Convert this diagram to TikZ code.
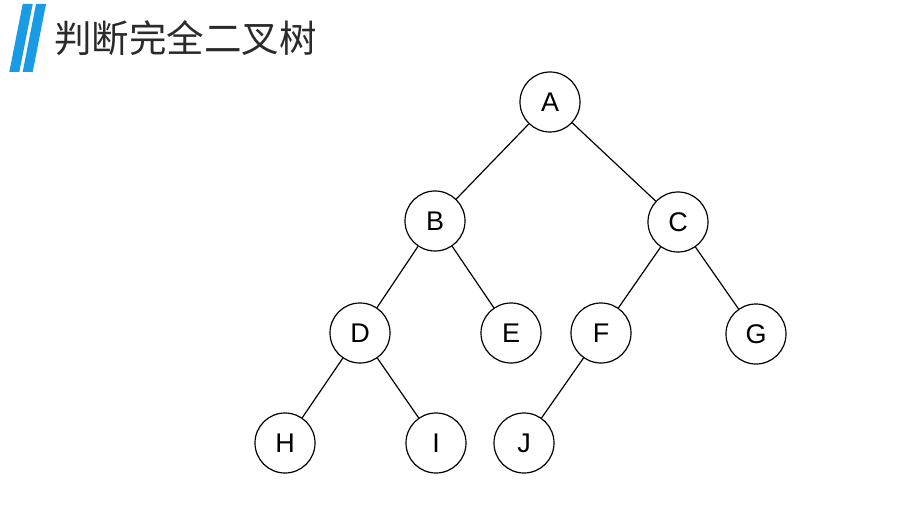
\documentclass[tikz,border=0pt]{standalone}
\usepackage{fontspec}
\setmainfont{Liberation Sans}
\newfontfamily\cjk{Noto Sans CJK SC}
\definecolor{barblue}{HTML}{1A9BE6}
\definecolor{titlegray}{HTML}{2A2A2A}
\begin{document}
\begin{tikzpicture}[x=1pt,y=-1pt,
  treenode/.style={circle,draw=black,line width=1.2pt,minimum size=60pt,inner sep=0pt,font=\fontsize{27}{30}\selectfont},
  treeedge/.style={line width=1.2pt,black}]
\useasboundingbox (0,0) rectangle (902,513);
\fill[barblue] (22.7,4) -- (32.7,4) -- (19.3,72) -- (9.3,72) -- cycle;
\fill[barblue] (36,4) -- (46,4) -- (32.7,72) -- (22.7,72) -- cycle;
\node[anchor=west,inner sep=0pt,text=titlegray,font=\cjk\fontsize{37.5}{40}\selectfont] (title) at (54,38) {判断完全二叉树};
\node[treenode] (A) at (550,102) {A};
\node[treenode] (B) at (435,221) {B};
\node[treenode] (C) at (678,222) {C};
\node[treenode] (D) at (360,333) {D};
\node[treenode] (E) at (511,333) {E};
\node[treenode] (F) at (601,333) {F};
\node[treenode] (G) at (756,334) {G};
\node[treenode] (H) at (285,443) {H};
\node[treenode] (I) at (436,443) {I};
\node[treenode] (J) at (524,443) {J};
\draw[treeedge] (A) -- (B);
\draw[treeedge] (A) -- (C);
\draw[treeedge] (B) -- (D);
\draw[treeedge] (B) -- (E);
\draw[treeedge] (C) -- (F);
\draw[treeedge] (C) -- (G);
\draw[treeedge] (D) -- (H);
\draw[treeedge] (D) -- (I);
\draw[treeedge] (F) -- (J);
\end{tikzpicture}
\end{document}
